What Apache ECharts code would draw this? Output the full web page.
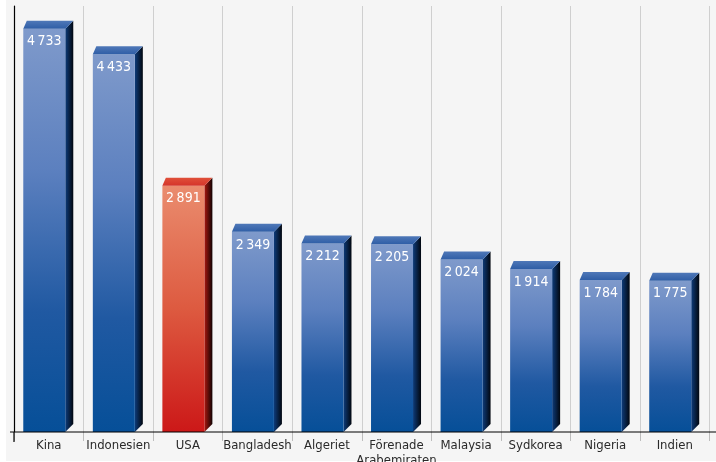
<!DOCTYPE html>
<html><head><meta charset="utf-8">
<script src="https://cdn.jsdelivr.net/npm/echarts@6/dist/echarts.min.js"></script>
<style>html,body{margin:0;padding:0;background:#fff}#c{width:716px;height:462px}</style>
</head><body><div id="c"></div>
<script>
const categories = ['Kina','Indonesien','USA','Bangladesh','Algeriet','Förenade\nArabemiraten','Malaysia','Sydkorea','Nigeria','Indien'];
const values = [4733, 4433, 2891, 2349, 2212, 2205, 2024, 1914, 1784, 1775];
const highlightIndex = 2;

const chart = echarts.init(document.getElementById('c'), null, {renderer:'canvas'});
const G = echarts.graphic;
const FONT = '"Liberation Sans Narrow", "DejaVu Sans Condensed", sans-serif';
function fmt(v){ return String(v).replace(/\B(?=(\d{3})+(?!\d))/g, '\u2009'); }

function renderItem(params, api){
  const idx = api.value(0), v = api.value(1);
  const top = api.coord([idx, v]);
  const base = api.coord([idx, 0]);
  const cx = top[0], yt = top[1], yb = base[1];
  const x0 = cx - 25.5, x1 = cx + 16.5, d = 8;
  const red = idx === highlightIndex;
  const front = red
    ? new G.LinearGradient(0,0,0,1,[{offset:0,color:'#ea8c6e'},{offset:0.5,color:'#dd5a40'},{offset:1,color:'#cc1818'}])
    : new G.LinearGradient(0,0,0,1,[{offset:0,color:'#7f9acb'},{offset:0.35,color:'#5c80bf'},{offset:0.7,color:'#2059a2'},{offset:1,color:'#064f98'}]);
  const side = red
    ? new G.LinearGradient(0,0,1,0,[{offset:0,color:'#a8170f'},{offset:1,color:'#120303'}])
    : new G.LinearGradient(0,0,1,0,[{offset:0,color:'#0d3b7a'},{offset:1,color:'#02070f'}]);
  const topc = red
    ? new G.LinearGradient(0,0,0,1,[{offset:0,color:'#e0503a'},{offset:1,color:'#d5352a'}])
    : new G.LinearGradient(0,0,0,1,[{offset:0,color:'#4f78b8'},{offset:1,color:'#2f5ea6'}]);
  return {type:'group', children:[
    {type:'polygon', shape:{points:[[x1,yt],[x1+d,yt-d],[x1+d,yb-d],[x1,yb]]}, style:{fill:side}},
    {type:'rect', shape:{x:x0,y:yt,width:x1-x0,height:yb-yt}, style:{fill:front}},
    {type:'polygon', shape:{points:[[x0,yt],[x1,yt],[x1+d,yt-d],[x0+3.5,yt-d]]}, style:{fill:topc}},
    {type:'text', x:(x0+x1)/2, y:yt+13, style:{text:fmt(v), fill:'#ffffff', font:'14px ' + FONT, align:'center', verticalAlign:'middle'}}
  ]};
}

chart.setOption({
  animation:false,
  backgroundColor:'#ffffff',
  grid:{left:14, right:6.5, top:6, bottom:30, containLabel:false, outerBoundsMode:'none'},
  xAxis:{type:'category', data:categories, boundaryGap:true,
    axisLine:{show:false},
    axisTick:{show:true, interval:0, length:9, lineStyle:{color:'#bdbdbd'}},
    splitLine:{show:true, interval:0, lineStyle:{color:'#cfcfcf', width:1}},
    axisLabel:{interval:0, color:'#2a2a2a', fontSize:13, margin:6, lineHeight:15, fontFamily:FONT}},
  yAxis:{type:'value', min:0, max:5000, interval:1000,
    axisLine:{show:true, lineStyle:{color:'#000', width:1.2}},
    axisTick:{show:false}, axisLabel:{show:false}, splitLine:{show:false}},
  graphic:[
    {type:'rect', z:-100, shape:{x:6,y:0,width:710,height:461}, style:{fill:'#f5f5f5'}},
    {type:'line', z:100, shape:{x1:10,y1:432,x2:716,y2:432}, style:{stroke:'#000', lineWidth:1.2}},
    {type:'line', z:100, shape:{x1:14,y1:432,x2:14,y2:442}, style:{stroke:'#000', lineWidth:1.2}}
  ],
  series:[{type:'custom', renderItem:renderItem, data:values.map((v,i)=>[i,v]), clip:false}]
});
</script></body></html>
